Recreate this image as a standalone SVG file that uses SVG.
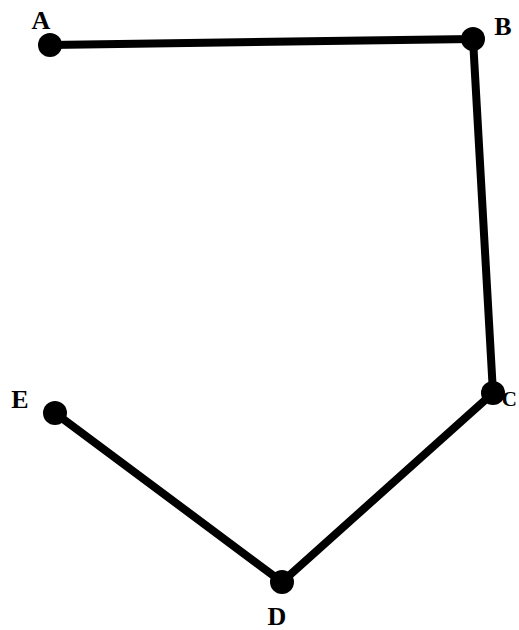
<svg xmlns="http://www.w3.org/2000/svg" width="519" height="630" viewBox="0 0 519 630">
<style>
.edge{stroke:#000;stroke-width:8;fill:none;stroke-linecap:round}
.dot{fill:#000}
.lbl{font-family:"Liberation Serif","DejaVu Serif",serif;font-weight:bold;font-size:26px;fill:#000;text-anchor:middle}
</style>
<rect width="519" height="630" fill="#fff"/>
<g id="connectors">
<line class="edge" x1="50" y1="45" x2="473" y2="39"/>
<line class="edge" x1="473" y1="39" x2="493" y2="393"/>
<line class="edge" x1="493" y1="393" x2="282" y2="582"/>
<line class="edge" x1="282" y1="582" x2="55" y2="413"/>
</g>
<g id="A"><circle class="dot" cx="50" cy="45" r="12"/><text class="lbl" x="41" y="29">A</text></g>
<g id="B"><circle class="dot" cx="473" cy="39" r="12"/><text class="lbl" x="503" y="35">B</text></g>
<g id="C"><circle class="dot" cx="493" cy="393" r="12"/><text class="lbl" x="517" y="406" style="text-anchor:end;font-size:21px">C</text></g>
<g id="D"><circle class="dot" cx="282" cy="582" r="12"/><text class="lbl" x="277" y="625">D</text></g>
<g id="E"><circle class="dot" cx="55" cy="413" r="12"/><text class="lbl" x="20" y="408">E</text></g>
</svg>
